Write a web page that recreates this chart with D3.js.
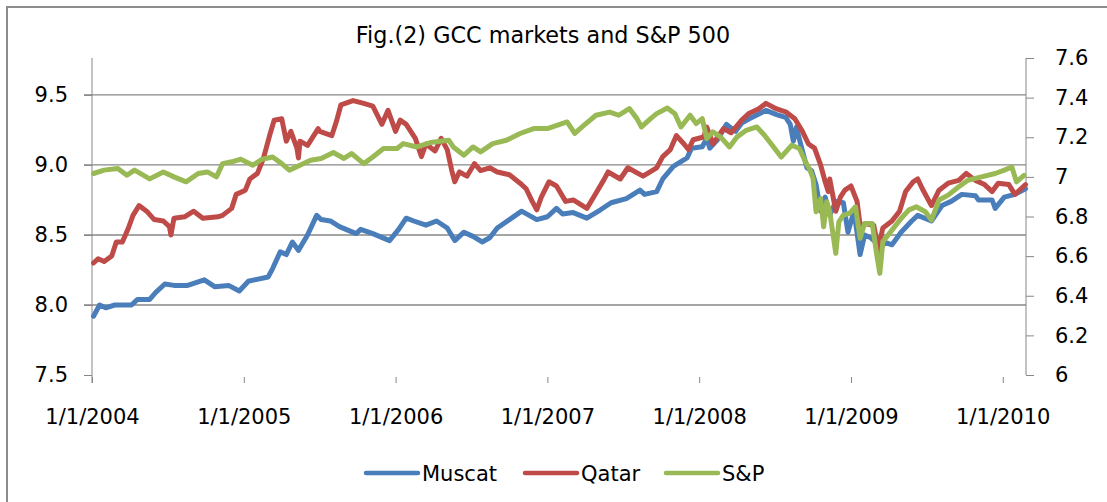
<!DOCTYPE html>
<html>
<head>
<meta charset="utf-8">
<script src="https://cdn.jsdelivr.net/npm/d3@7"></script>
<style>
  body { margin: 0; background: #fff; }
  text { font-family: "DejaVu Sans", sans-serif; fill: #000; }
</style>
</head>
<body>
<div id="chart"></div>
<script>
// decimal year, log index value
const muscat = [
  [2004.01, 7.92], [2004.05, 8.0], [2004.09, 7.98], [2004.15, 8.0], [2004.26, 8.0],
  [2004.30, 8.04], [2004.38, 8.04], [2004.42, 8.09], [2004.48, 8.15], [2004.54, 8.14],
  [2004.63, 8.14], [2004.74, 8.18], [2004.81, 8.13], [2004.90, 8.14], [2004.97, 8.1],
  [2005.03, 8.17], [2005.16, 8.2], [2005.19, 8.26], [2005.24, 8.38], [2005.28, 8.36],
  [2005.32, 8.45], [2005.36, 8.39], [2005.42, 8.5], [2005.48, 8.64], [2005.51, 8.61],
  [2005.57, 8.6], [2005.63, 8.56], [2005.74, 8.51], [2005.77, 8.54], [2005.85, 8.51],
  [2005.96, 8.46], [2006.02, 8.54], [2006.07, 8.62], [2006.12, 8.6], [2006.20, 8.57],
  [2006.27, 8.6], [2006.34, 8.55], [2006.39, 8.46], [2006.45, 8.52], [2006.51, 8.49],
  [2006.57, 8.45], [2006.62, 8.48], [2006.67, 8.55], [2006.75, 8.61], [2006.83, 8.67],
  [2006.93, 8.61], [2007.00, 8.63], [2007.06, 8.69], [2007.10, 8.65], [2007.17, 8.66],
  [2007.26, 8.62], [2007.35, 8.68], [2007.42, 8.73], [2007.52, 8.76], [2007.61, 8.82],
  [2007.64, 8.79], [2007.72, 8.81], [2007.76, 8.9], [2007.83, 8.99], [2007.92, 9.05],
  [2007.95, 9.12], [2008.02, 9.13], [2008.05, 9.19], [2008.07, 9.12], [2008.12, 9.18],
  [2008.18, 9.29], [2008.24, 9.24], [2008.28, 9.3], [2008.33, 9.33], [2008.44, 9.39],
  [2008.51, 9.36], [2008.57, 9.34], [2008.60, 9.29], [2008.62, 9.17], [2008.64, 9.27],
  [2008.68, 9.1], [2008.71, 8.98], [2008.74, 8.96], [2008.77, 8.86], [2008.80, 8.67],
  [2008.83, 8.77], [2008.86, 8.64], [2008.90, 8.74], [2008.95, 8.73], [2008.98, 8.52],
  [2009.02, 8.67], [2009.06, 8.36], [2009.09, 8.5], [2009.13, 8.48], [2009.16, 8.45],
  [2009.19, 8.38], [2009.22, 8.45], [2009.27, 8.43], [2009.33, 8.52], [2009.40, 8.6],
  [2009.44, 8.64], [2009.53, 8.6], [2009.60, 8.71], [2009.66, 8.74], [2009.73, 8.79],
  [2009.82, 8.78], [2009.84, 8.75], [2009.93, 8.75], [2009.95, 8.69], [2010.01, 8.77],
  [2010.08, 8.79], [2010.15, 8.83]
];

const qatar = [
  [2004.01, 8.3], [2004.04, 8.33], [2004.08, 8.31], [2004.13, 8.35], [2004.16, 8.45],
  [2004.20, 8.45], [2004.24, 8.55], [2004.27, 8.64], [2004.31, 8.71], [2004.36, 8.67],
  [2004.41, 8.61], [2004.47, 8.6], [2004.51, 8.56], [2004.52, 8.5], [2004.54, 8.62],
  [2004.61, 8.63], [2004.67, 8.67], [2004.73, 8.62], [2004.83, 8.63], [2004.86, 8.64],
  [2004.92, 8.69], [2004.95, 8.79], [2005.01, 8.82], [2005.04, 8.9], [2005.09, 8.94],
  [2005.13, 9.05], [2005.17, 9.21], [2005.20, 9.32], [2005.25, 9.33], [2005.28, 9.17],
  [2005.31, 9.24], [2005.35, 9.12], [2005.36, 9.05], [2005.37, 9.17], [2005.42, 9.14],
  [2005.49, 9.26], [2005.50, 9.24], [2005.58, 9.21], [2005.61, 9.31], [2005.64, 9.43],
  [2005.72, 9.46], [2005.79, 9.44], [2005.85, 9.42], [2005.91, 9.29], [2005.95, 9.39],
  [2006.00, 9.24], [2006.03, 9.32], [2006.07, 9.29], [2006.13, 9.19], [2006.17, 9.06],
  [2006.20, 9.15], [2006.26, 9.1], [2006.30, 9.19], [2006.34, 9.11], [2006.37, 8.96],
  [2006.39, 8.88], [2006.42, 8.95], [2006.47, 8.92], [2006.52, 9.01], [2006.56, 8.96],
  [2006.62, 8.98], [2006.67, 8.95], [2006.75, 8.93], [2006.82, 8.87], [2006.86, 8.83],
  [2006.90, 8.74], [2006.93, 8.68], [2006.96, 8.77], [2007.01, 8.88], [2007.06, 8.85],
  [2007.12, 8.74], [2007.17, 8.75], [2007.26, 8.69], [2007.31, 8.78], [2007.37, 8.89],
  [2007.40, 8.95], [2007.48, 8.9], [2007.53, 8.98], [2007.63, 8.92], [2007.72, 8.98],
  [2007.76, 9.06], [2007.81, 9.11], [2007.85, 9.21], [2007.90, 9.15], [2007.93, 9.11],
  [2007.96, 9.18], [2008.03, 9.2], [2008.05, 9.27], [2008.09, 9.15], [2008.16, 9.26],
  [2008.21, 9.23], [2008.28, 9.32], [2008.33, 9.37], [2008.39, 9.4], [2008.44, 9.44],
  [2008.51, 9.4], [2008.57, 9.38], [2008.63, 9.33], [2008.68, 9.24], [2008.72, 9.15],
  [2008.76, 9.12], [2008.80, 9.0], [2008.83, 8.88], [2008.85, 8.81], [2008.86, 8.9],
  [2008.90, 8.67], [2008.93, 8.77], [2008.96, 8.82], [2009.00, 8.85], [2009.04, 8.74],
  [2009.06, 8.57], [2009.10, 8.58], [2009.15, 8.57], [2009.18, 8.4], [2009.21, 8.55],
  [2009.27, 8.6], [2009.32, 8.67], [2009.36, 8.81], [2009.41, 8.88], [2009.44, 8.9],
  [2009.47, 8.83], [2009.53, 8.71], [2009.58, 8.82], [2009.64, 8.87], [2009.71, 8.89],
  [2009.76, 8.94], [2009.82, 8.89], [2009.88, 8.86], [2009.93, 8.81], [2009.97, 8.87],
  [2010.04, 8.86], [2010.08, 8.79], [2010.15, 8.86]
];

const sp = [
  [2004.01, 7.017], [2004.08, 7.034], [2004.17, 7.042], [2004.23, 7.008], [2004.28, 7.034],
  [2004.38, 6.99], [2004.47, 7.025], [2004.54, 7.0], [2004.62, 6.975], [2004.70, 7.017],
  [2004.76, 7.025], [2004.82, 7.0], [2004.86, 7.067], [2004.92, 7.076], [2004.98, 7.089],
  [2005.06, 7.059], [2005.12, 7.089], [2005.19, 7.1], [2005.25, 7.067], [2005.30, 7.034],
  [2005.37, 7.059], [2005.44, 7.084], [2005.51, 7.093], [2005.59, 7.123], [2005.66, 7.093],
  [2005.71, 7.118], [2005.79, 7.067], [2005.85, 7.1], [2005.92, 7.143], [2006.01, 7.143],
  [2006.05, 7.168], [2006.14, 7.151], [2006.23, 7.173], [2006.35, 7.185], [2006.38, 7.151],
  [2006.45, 7.109], [2006.51, 7.151], [2006.56, 7.126], [2006.64, 7.168], [2006.73, 7.185],
  [2006.82, 7.219], [2006.91, 7.244], [2007.00, 7.244], [2007.13, 7.277], [2007.18, 7.219],
  [2007.24, 7.26], [2007.32, 7.311], [2007.41, 7.327], [2007.47, 7.311], [2007.54, 7.345],
  [2007.59, 7.294], [2007.62, 7.252], [2007.68, 7.294], [2007.72, 7.319], [2007.79, 7.348],
  [2007.84, 7.319], [2007.88, 7.252], [2007.94, 7.311], [2007.98, 7.269], [2008.02, 7.294],
  [2008.05, 7.193], [2008.09, 7.227], [2008.14, 7.202], [2008.20, 7.151], [2008.25, 7.202],
  [2008.31, 7.235], [2008.38, 7.252], [2008.43, 7.21], [2008.49, 7.151], [2008.54, 7.1],
  [2008.61, 7.16], [2008.66, 7.143], [2008.70, 7.076], [2008.73, 7.034], [2008.75, 6.992],
  [2008.77, 6.824], [2008.80, 6.891], [2008.82, 6.748], [2008.84, 6.874], [2008.86, 6.824],
  [2008.90, 6.614], [2008.92, 6.773], [2008.95, 6.807], [2008.99, 6.816], [2009.03, 6.849],
  [2009.06, 6.69], [2009.09, 6.765], [2009.14, 6.765], [2009.17, 6.606], [2009.19, 6.513],
  [2009.21, 6.673], [2009.27, 6.731], [2009.33, 6.79], [2009.38, 6.832], [2009.43, 6.849],
  [2009.49, 6.824], [2009.53, 6.782], [2009.58, 6.883], [2009.64, 6.908], [2009.71, 6.95],
  [2009.77, 6.983], [2009.86, 7.0], [2009.95, 7.017], [2010.01, 7.034], [2010.06, 7.05],
  [2010.09, 6.975], [2010.14, 7.008]
];

const yearTicks = [2004, 2005, 2006, 2007, 2008, 2009, 2010];
const leftTicks = [7.5, 8.0, 8.5, 9.0, 9.5];
const rightTicks = [6, 6.2, 6.4, 6.6, 6.8, 7, 7.2, 7.4, 7.6];
const seriesNames = ["Muscat", "Qatar", "S&P"];
const colors = ["#4a7ebb", "#be4b48", "#98b954"];

const W = 1107, H = 502;
const plot = { left: 92, right: 1026, top: 58, bottom: 375 };

const svg = d3.select("#chart").append("svg")
  .attr("width", W)
  .attr("height", H);

svg.append("rect").attr("width", W).attr("height", H).attr("fill", "#fff");

// outer chart border (only top/left visible in the crop)
svg.append("rect")
  .attr("x", 7).attr("y", 7)
  .attr("width", W + 20).attr("height", H + 20)
  .attr("fill", "none")
  .attr("stroke", "#8c8c8c")
  .attr("stroke-width", 2);

const x = d3.scaleLinear()
  .domain([2004, 2010.153])
  .range([plot.left, plot.right]);

const yL = d3.scaleLinear()
  .domain([7.5, 9.764])
  .range([plot.bottom, plot.top]);

const yR = d3.scaleLinear()
  .domain([6, 7.6])
  .range([plot.bottom, plot.top]);

// gridlines
svg.append("g")
  .selectAll("line")
  .data(leftTicks.filter(d => d > 7.5))
  .join("line")
  .attr("x1", plot.left - 8)
  .attr("x2", plot.right)
  .attr("y1", d => yL(d))
  .attr("y2", d => yL(d))
  .attr("stroke", "#878787")
  .attr("stroke-width", 1.3);

// left axis
svg.append("g")
  .attr("transform", `translate(${plot.left},0)`)
  .call(d3.axisLeft(yL).tickValues(leftTicks).tickFormat(d3.format(".1f")).tickSize(8).tickPadding(16))
  .call(g => g.select(".domain").remove())
  .call(g => g.selectAll(".tick line").attr("stroke", "#878787"))
  .call(g => g.selectAll(".tick text").attr("font-size", 21).attr("font-family", "DejaVu Sans"));

svg.append("line")
  .attr("x1", plot.left).attr("x2", plot.left)
  .attr("y1", plot.top).attr("y2", plot.bottom + 8)
  .attr("stroke", "#878787");

// right axis
svg.append("g")
  .attr("transform", `translate(${plot.right},0)`)
  .call(d3.axisRight(yR).tickValues(rightTicks).tickFormat(d => d3.format("~g")(d)).tickSize(8).tickPadding(21))
  .call(g => g.select(".domain").remove())
  .call(g => g.selectAll(".tick line").attr("stroke", "#878787"))
  .call(g => g.selectAll(".tick text").attr("font-size", 21).attr("font-family", "DejaVu Sans"));

svg.append("line")
  .attr("x1", plot.right).attr("x2", plot.right)
  .attr("y1", plot.top).attr("y2", plot.bottom)
  .attr("stroke", "#878787");

// bottom axis (ticks only)
svg.append("g")
  .attr("transform", `translate(0,${plot.bottom + 2})`)
  .call(d3.axisBottom(x).tickValues(yearTicks).tickFormat(d => "1/1/" + d).tickSize(6).tickPadding(26))
  .call(g => g.select(".domain").remove())
  .call(g => g.selectAll(".tick line").attr("stroke", "#878787"))
  .call(g => g.selectAll(".tick text").attr("font-size", 21).attr("font-family", "DejaVu Sans"));

// series
const lineL = d3.line().x(d => x(d[0])).y(d => yL(d[1]));
const lineR = d3.line().x(d => x(d[0])).y(d => yR(d[1]));

[[muscat, lineL, 0], [qatar, lineL, 1], [sp, lineR, 2]].forEach(([data, gen, i]) => {
  svg.append("path")
    .datum(data)
    .attr("fill", "none")
    .attr("stroke", colors[i])
    .attr("stroke-width", 5)
    .attr("stroke-linejoin", "round")
    .attr("stroke-linecap", "round")
    .attr("d", gen);
});

// title
svg.append("text")
  .attr("x", 543)
  .attr("y", 43)
  .attr("text-anchor", "middle")
  .attr("font-size", 22.3)
  .text("Fig.(2) GCC markets and S&P 500");

// legend
const legendX = [366, 525, 666];
const legend = svg.append("g");
seriesNames.forEach((name, i) => {
  legend.append("line")
    .attr("x1", legendX[i]).attr("x2", legendX[i] + 52)
    .attr("y1", 473).attr("y2", 473)
    .attr("stroke", colors[i])
    .attr("stroke-width", 4.5)
    .attr("stroke-linecap", "round");
  legend.append("text")
    .attr("x", legendX[i] + 56)
    .attr("y", 481)
    .attr("font-size", 21)
    .text(name);
});
</script>
</body>
</html>
